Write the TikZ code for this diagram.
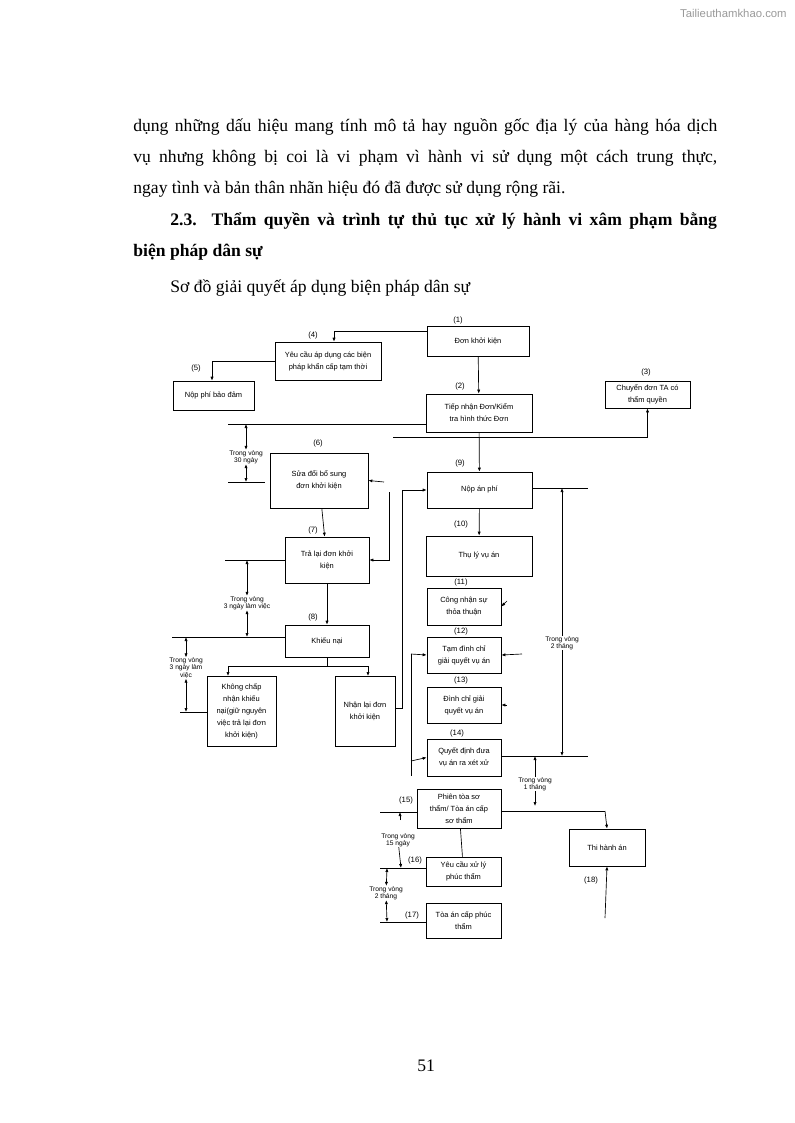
\documentclass[tikz,border=0pt]{standalone}
\usepackage{fontspec}
\setmainfont{Liberation Serif}
\newfontfamily\dsans{Liberation Sans}
\usetikzlibrary{arrows.meta}
\begin{document}
\begin{tikzpicture}
[x=0.75pt,y=-0.75pt,line width=0.5pt]
\tikzstyle{box}=[draw,align=center,inner sep=1pt,font=\dsans\fontsize{5.6}{9}\selectfont]
\tikzstyle{sz}=[minimum width=#1*0.75pt]
\tikzstyle{lbl}=[inner sep=0pt,font=\dsans\fontsize{5.8}{7}\selectfont]
\tikzstyle{note}=[inner sep=0pt,align=center,font=\dsans\fontsize{5}{5.5}\selectfont]
\tikzstyle{arr}=[-{Latex[length=3pt,width=2.4pt]}]
\tikzstyle{darr}=[{Latex[length=3pt,width=2.4pt]}-{Latex[length=3pt,width=2.4pt]}]
\tikzstyle{body}=[anchor=base west,inner sep=0pt,font=\fontsize{13.2}{16}\selectfont]
\useasboundingbox (0,0) rectangle (794,1123);
% page text
\node[anchor=base east,inner sep=0pt,text=black!40,font=\dsans\fontsize{8.5}{10}\selectfont] (hdr) at (787,18) {Tailieuthamkhao.com};
\node[body] (l1) at (133,132) {\makebox[438pt][s]{dụng những dấu hiệu mang tính mô tả hay nguồn gốc địa lý của hàng hóa dịch}};
\node[body] (l2) at (133,163) {\makebox[438pt][s]{vụ nhưng không bị coi là vi phạm vì hành vi sử dụng một cách trung thực,}};
\node[body] (l3) at (133,194) {ngay tình và bản thân nhãn hiệu đó đã được sử dụng rộng rãi.};
\node[body,font=\bfseries\fontsize{13.2}{16}\selectfont] (l4) at (170,226) {\makebox[410pt][s]{2.3. Thẩm quyền và trình tự thủ tục xử lý hành vi xâm phạm bằng}};
\node[body,font=\bfseries\fontsize{13.2}{16}\selectfont] (l5) at (133,257) {biện pháp dân sự};
\node[body] (l6) at (170,292) {Sơ đồ giải quyết áp dụng biện pháp dân sự};
\node[body] (pg) at (417,1071) {51};
% boxes
\node[box,sz=102,minimum height=30*0.75pt] (b1) at (478,341) {Đơn khởi kiện};
\node[box,sz=106,minimum height=38*0.75pt] (b4) at (328,361) {Yêu cầu áp dụng các biện\\pháp khẩn cấp tạm thời};
\node[box,sz=81,minimum height=29*0.75pt] (b5) at (213.5,395.5) {Nộp phí bảo đảm};
\node[box,sz=106,minimum height=38*0.75pt] (b2) at (479,413) {Tiếp nhận Đơn/Kiểm\\tra hình thức Đơn};
\node[box,sz=85,minimum height=27*0.75pt] (b3) at (647.5,394.5) {Chuyển đơn TA có\\thẩm quyền};
\node[box,sz=98,minimum height=55*0.75pt] (b6) at (319,480.5) {Sửa đổi bổ sung\\đơn khởi kiện};
\node[box,sz=105,minimum height=36*0.75pt] (b9) at (479.5,490) {Nộp án phí};
\node[box,sz=84,minimum height=46*0.75pt] (b7) at (327,560) {Trả lại đơn khởi\\kiện};
\node[box,sz=106,minimum height=40*0.75pt] (b10) at (479,556) {Thụ lý vụ án};
\node[box,sz=74,minimum height=37*0.75pt] (b11) at (464,606.5) {Công nhận sự\\thỏa thuận};
\node[box,sz=74,minimum height=36*0.75pt] (b12) at (464,655) {Tạm đình chỉ\\giải quyết vụ án};
\node[box,sz=74,minimum height=36*0.75pt] (b13) at (464,705) {Đình chỉ giải\\quyết vụ án};
\node[box,sz=84,minimum height=32*0.75pt] (b8) at (327,641) {Khiếu nại};
\node[box,sz=69,minimum height=70*0.75pt] (bk) at (241.5,711) {Không chấp\\nhận khiếu\\nại(giữ nguyên\\việc trả lại đơn\\khởi kiện)};
\node[box,sz=60,minimum height=70*0.75pt] (bn) at (365,711) {Nhận lại đơn\\khởi kiện};
\node[box,sz=74,minimum height=37*0.75pt] (b14) at (464,757.5) {Quyết định đưa\\vụ án ra xét xử};
\node[box,sz=84,minimum height=39*0.75pt] (b15) at (459,808.5) {Phiên tòa sơ\\thẩm/ Tòa án cấp\\sơ thẩm};
\node[box,sz=76,minimum height=37*0.75pt] (b18) at (607,847.5) {Thi hành án};
\node[box,sz=75,minimum height=29*0.75pt] (b16) at (463.5,871.5) {Yêu cầu xử lý\\phúc thẩm};
\node[box,sz=75,minimum height=35*0.75pt] (b17) at (463.5,920.5) {Tòa án cấp phúc\\thẩm};
% number labels
\node[lbl] (n1) at (458,320) {(1)};
\node[lbl] (n4) at (313,335) {(4)};
\node[lbl] (n5) at (196,368) {(5)};
\node[lbl] (n2) at (460,386) {(2)};
\node[lbl] (n3) at (646,372) {(3)};
\node[lbl] (n6) at (318,443) {(6)};
\node[lbl] (n9) at (460,463) {(9)};
\node[lbl] (n10) at (461,524) {(10)};
\node[lbl] (n7) at (313,530) {(7)};
\node[lbl] (n11) at (461,582) {(11)};
\node[lbl] (n8) at (313,617) {(8)};
\node[lbl] (n12) at (461,631) {(12)};
\node[lbl] (n13) at (461,680) {(13)};
\node[lbl] (n14) at (457,733) {(14)};
\node[lbl] (n15) at (406,800) {(15)};
\node[lbl] (n16) at (415,860) {(16)};
\node[lbl] (n17) at (412,915) {(17)};
\node[lbl] (n18) at (591,880) {(18)};
% notes
\node[note] (t30) at (246,457) {Trong vòng\\30 ngày};
\node[note] (t3a) at (247,603) {Trong vòng\\3 ngày làm việc};
\node[note] (t3b) at (186,668) {Trong vòng\\3 ngày làm\\việc};
\node[note,fill=white] (t2a) at (562,643) {Trong vòng\\2 tháng};
\node[note] (t1) at (535,784) {Trong vòng\\1 tháng};
\node[note] (t15) at (398,840) {Trong vòng\\15 ngày};
\node[note] (t2b) at (386,893) {Trong vòng\\2 tháng};
% connectors
\draw[arr] (b1.west |- 0,331) -| (b4.north -| 334,0);
\draw[arr] (b4.west) -| (b5.north -| 212,0);
\draw[arr] (b1) -- (b2);
\draw[arr] (393,437) -| (b3.south);
\draw[arr] (b2) -- (b9);
\draw (b2.west |- 0,424) -- (228,424);
\draw (228,482) -- (265,482);
\draw[darr] (246,424) -- (t30);
\draw[darr] (t30) -- (246,482);
\draw[arr] (384,482) -- (b6.east);
\draw[arr] (389,492) |- (b7.east);
\draw[arr] (bn.east |- 0,708) -- (402,708) |- (b9.west);
\draw (b9.east |- 0,488) -- (588,488);
\draw[arr] (t2a) -- (562,488);
\draw[arr] (t2a) -- (562,756);
\draw[arr] (b9) -- (b10);
\draw[arr] (b6) -- (b7);
\draw (b7.west) -- (225,560);
\draw[darr] (247,560) -- (t3a);
\draw[darr] (t3a) -- (247,637);
\draw[arr] (b7) -- (b8);
\draw (b8.west |- 0,637) -- (172,637);
\draw[darr] (186,637) -- (t3b);
\draw[darr] (t3b) -- (186,712);
\draw (bk.west |- 0,712) -- (180,712);
\draw (b8.south) -- (327,666);
\draw[arr] (228,666) -- (368,666) -- (368,676);
\draw[arr] (228,666) -- (228,676);
\draw[arr] (507,601) -- (b11.east);
\draw[arr] (522,654) -- (b12.east);
\draw[arr] (507,705) -- (b13.east);
\draw (411,654) -- (411,776);
\draw[arr] (411,654) -- (b12.west);
\draw[arr] (411,761) -- (b14.west);
\draw (b14.east |- 0,756) -- (588,756);
\draw[arr] (t1) -- (535,756);
\draw[arr] (t1) -- (535,806);
\draw (b15.east |- 0,811) -- (605,811);
\draw[arr] (605,811) -- (b18.north);
\draw[arr] (605,918) -- (b18.south);
\draw (b15.west |- 0,812) -- (380,812);
\draw[arr] (400,820) -- (400,812);
\draw (b15) -- (b16);
\draw (b16.west |- 0,868) -- (380,868);
\draw[arr] (t15) -- (401,868);
\draw[darr] (387,868) -- (t2b);
\draw[darr] (t2b) -- (387,922);
\draw (b17.west |- 0,922) -- (380,922);
\end{tikzpicture}
\end{document}
